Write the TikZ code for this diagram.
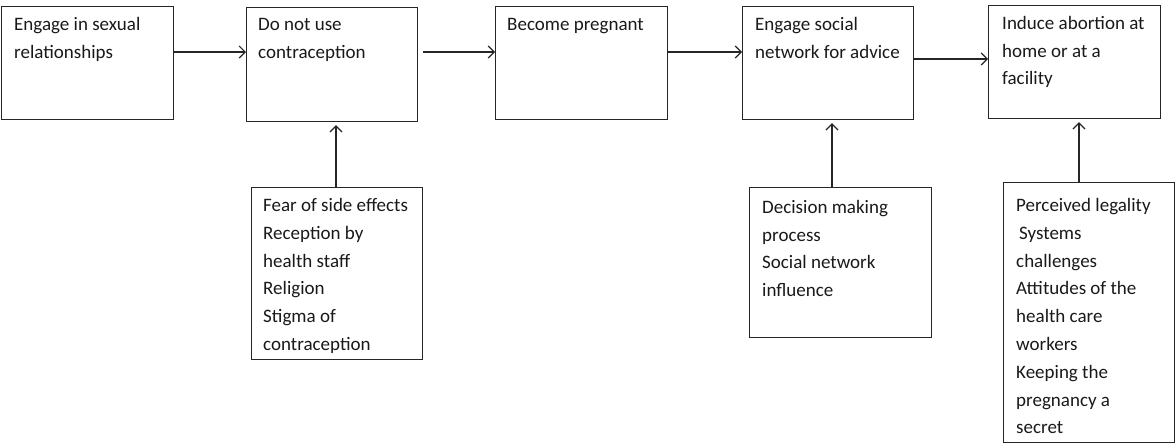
\documentclass[tikz,border=0pt]{standalone}
\usepackage{fontspec}
\setmainfont{Carlito}
\usetikzlibrary{arrows.meta,calc}
\begin{document}
\begin{tikzpicture}[x=1pt,y=-1pt,
  box/.style={draw=black!85, line width=1.2pt, inner sep=0pt, anchor=north west},
  txt/.style={anchor=north west, inner sep=0pt, align=left, text=black!90,
    font=\fontsize{19}{27.8}\selectfont},
  arr/.style={draw=black!85, line width=1.2pt, -{Straight Barb[length=6pt,width=12pt,line width=1.2pt]}}]
\useasboundingbox (0,0) rectangle (1175,445);
% top row
\node[box, minimum width=172pt, minimum height=113pt] (A) at (1,6) {};
\node[box, minimum width=171pt, minimum height=114pt] (B) at (246,7) {};
\node[box, minimum width=172pt, minimum height=113pt] (C) at (495,6) {};
\node[box, minimum width=171pt, minimum height=113pt] (D) at (742,6) {};
\node[box, minimum width=172pt, minimum height=113pt] (E) at (988,5) {};
% bottom row
\node[box, minimum width=171pt, minimum height=172pt] (F) at (251,187) {};
\node[box, minimum width=182pt, minimum height=150pt] (G) at (749,187) {};
\node[box, minimum width=171pt, minimum height=260pt] (H) at (1003,182) {};
% texts
\node[txt] (At) at ($(A.north west)+(13,11)$) {Engage in sexual\\relationships};
\node[txt] (Bt) at ($(B.north west)+(12,11)$) {Do not use\\contraception};
\node[txt] (Ct) at ($(C.north west)+(12,12)$) {Become pregnant};
\node[txt] (Dt) at ($(D.north west)+(13,11)$) {Engage social\\network for advice};
\node[txt] (Et) at ($(E.north west)+(14,11)$) {Induce abortion at\\home or at a\\facility};
\node[txt] (Ft) at ($(F.north west)+(12,11)$) {Fear of side effects\\Reception by\\health staff\\Religion\\Stigma of\\contraception};
\node[txt] (Gt) at ($(G.north west)+(13,13)$) {Decision making\\process\\Social network\\influence};
\node[txt] (Ht) at ($(H.north west)+(13,16)$) {Perceived legality\\\hspace*{3pt}Systems\\challenges\\Attitudes of the\\health care\\workers\\Keeping the\\pregnancy a\\secret};
% horizontal connectors
\coordinate (a1) at ($(A.north east)+(0,46)$);
\draw[arr] (a1) -- (a1 -| B.west);
\coordinate (b1) at ($(B.north east)+(5,45)$);
\draw[arr] (b1) -- (b1 -| C.west);
\coordinate (c1) at ($(C.north east)+(0,46)$);
\draw[arr] (c1) -- (c1 -| D.west);
\coordinate (d1) at ($(D.north east)+(0,53)$);
\draw[arr] (d1) -- (d1 -| E.west);
% vertical connectors
\coordinate (f1) at ($(F.north west)+(85,0)$);
\draw[arr, shorten >=3pt] (f1) -- (f1 |- B.south);
\coordinate (g1) at ($(G.north west)+(83,0)$);
\draw[arr, shorten >=3pt] (g1) -- (g1 |- D.south);
\coordinate (h1) at ($(H.north west)+(76,0)$);
\draw[arr, shorten >=3pt] (h1) -- (h1 |- E.south);
\end{tikzpicture}
\end{document}
